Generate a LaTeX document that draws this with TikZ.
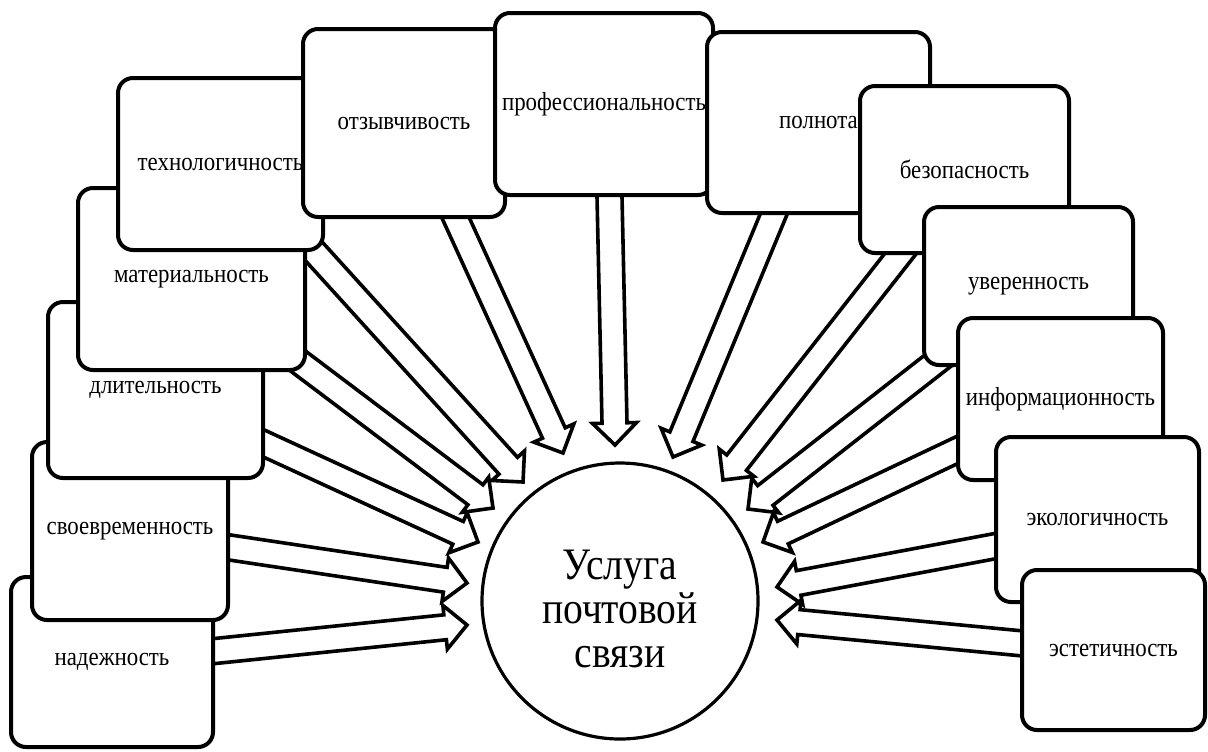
\documentclass[tikz,border=0pt]{standalone}
\usepackage{fontspec}
\setmainfont{Liberation Serif}[FakeStretch=0.88]
\usetikzlibrary{calc}
\pgfdeclarelayer{bg}
\pgfsetlayers{bg,main}

\newcommand{\labelfont}{\fontsize{13}{15}\selectfont}
% hollow block arrow from #1 to the tip #2
\newcommand{\blockarrow}[2]{%
  \path ($(#1)!-10pt!(#2)$) coordinate (ba-s)
        ($(#2)!11pt!(#1)$) coordinate (ba-h);
  \draw[hollow]
    ($(ba-s)!6.25pt!90:(#2)$) -- ($(ba-h)!6.25pt!90:(#2)$) --
    ($(ba-h)!11pt!90:(#2)$) -- (#2) -- ($(ba-h)!11pt!-90:(#2)$) --
    ($(ba-h)!6.25pt!-90:(#2)$) -- ($(ba-s)!6.25pt!-90:(#2)$) -- cycle;}

\begin{document}
\begin{tikzpicture}[x=0.5pt,y=-0.5pt,
  quality/.style={draw,line width=2pt,rounded corners=7.5pt,fill=white,
    inner sep=0pt,font=\labelfont},
  hollow/.style={draw,line width=1.8pt,fill=white,line join=miter}]
  \useasboundingbox (0,0) rectangle (1208,751);
  % qualities, from the bottom left round to the bottom right
  \node[quality,minimum width=101pt,minimum height=85pt] (nad) at (112,662) {надежность};
  \node[quality,minimum width=98pt,minimum height=89pt] (svoe) at (130,531) {своевременность};
  \node[quality,minimum width=107.5pt,minimum height=88pt] (dlit) at (155.5,390) {длительность};
  \node[quality,minimum width=113.5pt,minimum height=91pt] (mater) at (191.5,279) {материальность};
  \node[quality,minimum width=102.5pt,minimum height=86pt] (tehn) at (220.5,164) {технологичность};
  \node[quality,minimum width=101pt,minimum height=94pt] (otzyv) at (404,123) {отзывчивость};
  \node[quality,minimum width=109pt,minimum height=91pt] (prof) at (604,104) {профессиональность};
  \node[quality,minimum width=111.5pt,minimum height=90.5pt] (poln) at (818.5,122.5) {полнота};
  \node[quality,minimum width=104.5pt,minimum height=83.5pt] (bezop) at (964.5,169.5) {безопасность};
  \node[quality,minimum width=104.5pt,minimum height=79pt] (uver) at (1028.5,286) {уверенность};
  \node[quality,minimum width=102.5pt,minimum height=81pt] (inform) at (1060.5,399) {информационность};
  \node[quality,minimum width=101.5pt,minimum height=82.5pt] (ekol) at (1097.5,519.5) {экологичность};
  \node[quality,minimum width=91.5pt,minimum height=80pt] (estet) at (1113.5,650) {эстетичность};
  % the service
  \node[draw,circle,line width=1.6pt,minimum size=138pt] (usl) at (620,601) {};
  \node[align=center,font=\fontsize{22.5}{22}\selectfont] (usl-text) at ($(usl)+(0,8)$)
    {Услуга\\почтовой\\связи};
  % where the shafts leave the boxes
  \coordinate (s-nad) at ($(nad.east)+(0,-11)$);
  \coordinate (s-svoe) at ($(svoe.east)+(0,16.5)$);
  \coordinate (s-dlit) at ($(dlit.south east)+(0,-36)$);
  \coordinate (s-mater) at ($(mater.south east)+(-5,-8)$);
  \coordinate (s-tehn) at ($(tehn.south east)+(-11.5,-1)$);
  \coordinate (s-otzyv) at ($(otzyv.south)+(53.5,3)$);
  \coordinate (s-prof) at ($(prof.south)+(5.5,0)$);
  \coordinate (s-poln) at ($(poln.south)+(-46,2)$);
  \coordinate (s-bezop) at ($(bezop.south west)+(37.5,5)$);
  \coordinate (s-uver) at ($(uver.south west)+(9,-1)$);
  \coordinate (s-inform) at ($(inform.south west)+(-1,-31)$);
  \coordinate (s-ekol) at ($(ekol.west)+(-1,27)$);
  \coordinate (s-estet) at ($(estet.west)+(-2,-7)$);
  % tips round the circle
  \coordinate (t-nad) at (467,625);
  \coordinate (t-svoe) at (467,583);
  \coordinate (t-dlit) at (478,542);
  \coordinate (t-mater) at (493,508);
  \coordinate (t-tehn) at (523,482);
  \coordinate (t-otzyv) at (563,453);
  \coordinate (t-prof) at (615,445);
  \coordinate (t-poln) at (673,457);
  \coordinate (t-bezop) at (723,480);
  \coordinate (t-uver) at (748,509);
  \coordinate (t-inform) at (763,542);
  \coordinate (t-ekol) at (777,587);
  \coordinate (t-estet) at (777,620);
  \begin{pgfonlayer}{bg}
    \foreach \b in {nad,svoe,dlit,mater,tehn,otzyv,prof,poln,bezop,uver,inform,ekol,estet}{
      \blockarrow{s-\b}{t-\b}
    }
  \end{pgfonlayer}
\end{tikzpicture}
\end{document}
